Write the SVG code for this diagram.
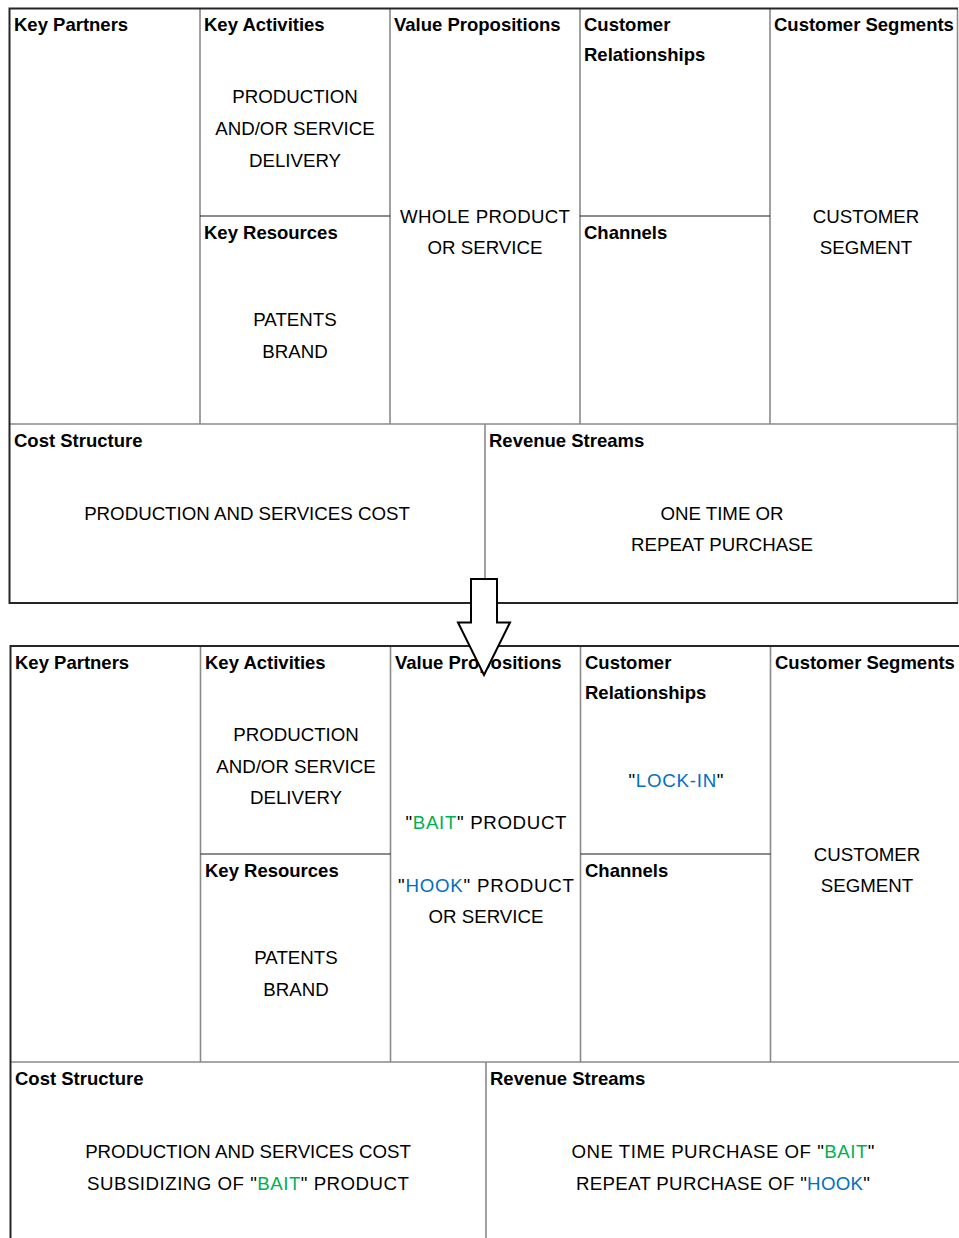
<svg xmlns="http://www.w3.org/2000/svg" width="959" height="1238" viewBox="0 0 959 1238">
  <style>
    .bg { fill: #ffffff; }
    .outer { stroke: #262626; stroke-width: 2; fill: none; }
    .grid { stroke: #8a8a8a; stroke-width: 1.6; fill: none; }
    .split { stroke: #1a1a1a; stroke-width: 1.2; fill: none; }
    .head { font-family: "Liberation Sans", Arial, sans-serif; font-weight: bold; font-size: 18.5px; fill: #000; }
    .body { font-family: "Liberation Sans", Arial, sans-serif; font-size: 18.7px; fill: #000; text-anchor: middle; }
    .bait { fill: #00b050; }
    .hook { fill: #0070c0; }
    .arrow { fill: #ffffff; stroke: #000; stroke-width: 2; stroke-linejoin: miter; }
  </style>
  <rect class="bg" x="0" y="0" width="959" height="1238"/>

  <!-- Canvas 1: original business model -->
  <g id="canvas-before">
    <g id="grid-before">
      <line class="grid" x1="200" y1="9" x2="200" y2="424"/>
      <line class="grid" x1="390" y1="9" x2="390" y2="424"/>
      <line class="grid" x1="580" y1="9" x2="580" y2="424"/>
      <line class="grid" x1="770" y1="9" x2="770" y2="424"/>
      <line class="grid" x1="957.5" y1="9" x2="957.5" y2="603"/>
      <line class="grid" x1="9.5" y1="424" x2="958" y2="424"/>
      <line class="grid" x1="485" y1="424" x2="485" y2="603"/>
      <line class="split" x1="200" y1="216" x2="390" y2="216"/>
      <line class="split" x1="580" y1="216" x2="770" y2="216"/>
      <polyline class="outer" points="958,8.5 9.5,8.5 9.5,603 958,603"/>
    </g>
    <g id="kp1"><text class="head" x="14" y="31">Key Partners</text></g>
    <g id="ka1">
      <text class="head" x="204" y="31">Key Activities</text>
      <text class="body" x="295" y="103">PRODUCTION</text>
      <text class="body" x="295" y="135">AND/OR SERVICE</text>
      <text class="body" x="295" y="167">DELIVERY</text>
    </g>
    <g id="kr1">
      <text class="head" x="204" y="239">Key Resources</text>
      <text class="body" x="295" y="326">PATENTS</text>
      <text class="body" x="295" y="358">BRAND</text>
    </g>
    <g id="vp1">
      <text class="head" x="394" y="31">Value Propositions</text>
      <text class="body" x="485" y="223" textLength="170">WHOLE PRODUCT</text>
      <text class="body" x="485" y="254">OR SERVICE</text>
    </g>
    <g id="cr1">
      <text class="head" x="584" y="31">Customer</text>
      <text class="head" x="584" y="61">Relationships</text>
    </g>
    <g id="ch1"><text class="head" x="584" y="239">Channels</text></g>
    <g id="cs1">
      <text class="head" x="774" y="31">Customer Segments</text>
      <text class="body" x="866" y="223">CUSTOMER</text>
      <text class="body" x="866" y="254">SEGMENT</text>
    </g>
    <g id="cost1">
      <text class="head" x="14" y="447">Cost Structure</text>
      <text class="body" x="247" y="520">PRODUCTION AND SERVICES COST</text>
    </g>
    <g id="rev1">
      <text class="head" x="489" y="447">Revenue Streams</text>
      <text class="body" x="722" y="520">ONE TIME OR</text>
      <text class="body" x="722" y="551">REPEAT PURCHASE</text>
    </g>
  </g>

  <!-- Canvas 2: bait and hook model -->
  <g id="canvas-after">
    <g id="grid-after">
      <line class="grid" x1="200.5" y1="646" x2="200.5" y2="1062"/>
      <line class="grid" x1="390.5" y1="646" x2="390.5" y2="1062"/>
      <line class="grid" x1="580.5" y1="646" x2="580.5" y2="1062"/>
      <line class="grid" x1="770.5" y1="646" x2="770.5" y2="1062"/>
      <line class="grid" x1="10.5" y1="1062" x2="959" y2="1062"/>
      <line class="grid" x1="486" y1="1062" x2="486" y2="1238"/>
      <line class="split" x1="200.5" y1="854" x2="390.5" y2="854"/>
      <line class="split" x1="580.5" y1="854" x2="770.5" y2="854"/>
      <polyline class="outer" points="959,646 10.5,646 10.5,1238"/>
    </g>
    <g id="kp2"><text class="head" x="15" y="669">Key Partners</text></g>
    <g id="ka2">
      <text class="head" x="205" y="669">Key Activities</text>
      <text class="body" x="296" y="741">PRODUCTION</text>
      <text class="body" x="296" y="773">AND/OR SERVICE</text>
      <text class="body" x="296" y="804">DELIVERY</text>
    </g>
    <g id="kr2">
      <text class="head" x="205" y="877">Key Resources</text>
      <text class="body" x="296" y="964">PATENTS</text>
      <text class="body" x="296" y="996">BRAND</text>
    </g>
    <g id="vp2">
      <text class="head" x="395" y="669">Value Propositions</text>
      <text class="body" x="486" y="829" textLength="161">"<tspan class="bait">BAIT</tspan>" PRODUCT</text>
      <text class="body" x="486" y="892" textLength="176">"<tspan class="hook">HOOK</tspan>" PRODUCT</text>
      <text class="body" x="486" y="923">OR SERVICE</text>
    </g>
    <g id="cr2">
      <text class="head" x="585" y="669">Customer</text>
      <text class="head" x="585" y="699">Relationships</text>
      <text class="body" x="676" y="787" textLength="95">"<tspan class="hook">LOCK-IN</tspan>"</text>
    </g>
    <g id="ch2"><text class="head" x="585" y="877">Channels</text></g>
    <g id="cs2">
      <text class="head" x="775" y="669">Customer Segments</text>
      <text class="body" x="867" y="861">CUSTOMER</text>
      <text class="body" x="867" y="892">SEGMENT</text>
    </g>
    <g id="cost2">
      <text class="head" x="15" y="1085">Cost Structure</text>
      <text class="body" x="248" y="1158">PRODUCTION AND SERVICES COST</text>
      <text class="body" x="248" y="1190" textLength="322">SUBSIDIZING OF "<tspan class="bait">BAIT</tspan>" PRODUCT</text>
    </g>
    <g id="rev2">
      <text class="head" x="490" y="1085">Revenue Streams</text>
      <text class="body" x="723" y="1158" textLength="303">ONE TIME PURCHASE OF "<tspan class="bait">BAIT</tspan>"</text>
      <text class="body" x="723" y="1190" textLength="294">REPEAT PURCHASE OF "<tspan class="hook">HOOK</tspan>"</text>
    </g>
  </g>

  <!-- Transition arrow between the two canvases -->
  <g id="connectors">
    <polygon class="arrow" points="471,579 497,579 497,622.5 510,622.5 484,675 458,622.5 471,622.5"/>
  </g>
</svg>
